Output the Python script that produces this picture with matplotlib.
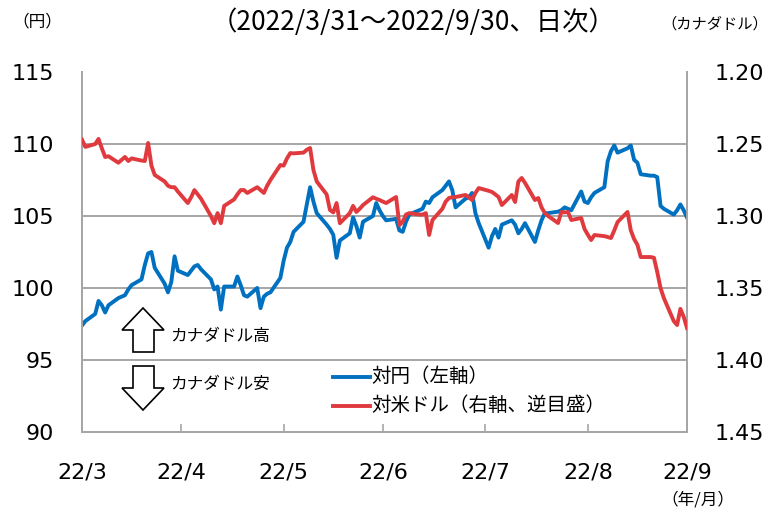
import matplotlib
matplotlib.use('Agg')
import matplotlib.pyplot as plt
import pandas as pd
from matplotlib.patches import Polygon
from matplotlib.lines import Line2D

plt.rcParams['font.family'] = ['DejaVu Sans', 'Noto Sans CJK JP']
JP = ['Noto Sans CJK JP', 'DejaVu Sans']

# ---------------- data ----------------
dates = pd.bdate_range('2022-03-31', '2022-09-30')

cad_jpy = [
    97.4,
    97.7, 98.2, 99.1, 98.8, 98.3, 98.8, 99.3, 99.4, 99.5, 99.9, 100.2,
    100.6, 101.6, 102.4, 102.5, 101.4, 100.3, 99.7, 100.4, 102.2, 101.2,
    100.9, 101.2, 101.5, 101.6, 101.3, 100.6, 99.9, 100.1, 98.5, 100.1,
    100.1, 100.8, 100.2, 99.5, 99.4, 100.0, 98.6, 99.4, 99.6, 99.7, 100.7, 101.9,
    102.8, 103.2, 103.9, 104.6, 105.8, 107.0, 106.0, 105.2, 104.4, 104.1, 103.7,
    102.1, 103.3, 103.8, 104.9, 104.3, 103.5, 104.6, 105.0, 105.9, 105.4, 105.0,
    104.7, 104.8, 104.0, 103.9, 104.6, 105.1, 105.4, 105.5, 106.0, 105.9, 106.3,
    106.8, 107.1, 107.4, 106.8, 105.6, 106.2, 106.3, 106.6, 105.2, 104.5,
    102.8, 103.6, 104.1, 103.5, 104.4, 104.7, 104.4, 103.8, 104.1, 104.5,
    103.2, 104.0, 104.7, 105.2, 105.2, 105.3, 105.4, 105.6, 105.5, 105.4,
    106.7, 106.0, 105.9,
    106.3, 106.6, 107.0, 108.8, 109.5, 109.9, 109.4, 109.7, 109.9, 108.9, 108.7,
    107.9, 107.8, 107.8, 107.7, 105.7, 105.5, 105.1, 105.4, 105.8, 105.4, 104.9,
]

usd_cad = [
    1.2470,
    1.2520, 1.2500, 1.2465, 1.2530, 1.2590, 1.2585, 1.2630, 1.2610, 1.2590, 1.2618, 1.2600,
    1.2615, 1.2618, 1.2493, 1.2650, 1.2715, 1.2760, 1.2790, 1.2800, 1.2800, 1.2830,
    1.2910, 1.2870, 1.2820, 1.2850, 1.2880, 1.3000, 1.3050, 1.2980, 1.3050, 1.2930,
    1.2885, 1.2850, 1.2820, 1.2820, 1.2840, 1.2800, 1.2820, 1.2840, 1.2790, 1.2750,
    1.2646, 1.2650,
    1.2600, 1.2563, 1.2565, 1.2560, 1.2540, 1.2528, 1.2680, 1.2760, 1.2850, 1.2958,
    1.2975, 1.2910, 1.3050, 1.2980, 1.2930, 1.2972, 1.2950, 1.2924, 1.2870, 1.2880,
    1.2889, 1.2900,
    1.2910, 1.2868, 1.3063, 1.3040, 1.2990, 1.2980, 1.2990, 1.2990, 1.2980, 1.3132,
    1.3028, 1.2950, 1.2900, 1.2875, 1.2870, 1.2868, 1.2854, 1.2870, 1.2889, 1.2840,
    1.2806,
    1.2825, 1.2833, 1.2850, 1.2868, 1.2924, 1.2854, 1.2903, 1.2760, 1.2736, 1.2770,
    1.2889, 1.2875, 1.2940, 1.2980, 1.3000, 1.3049, 1.2972, 1.2975, 1.2972, 1.3028,
    1.3014, 1.3090, 1.3130,
    1.3167, 1.3132, 1.3140, 1.3146, 1.3153, 1.3100, 1.3042, 1.2972, 1.3100, 1.3160,
    1.3200, 1.3285, 1.3285, 1.3290, 1.3389, 1.3500, 1.3570, 1.3730, 1.3757, 1.3645,
    1.3700, 1.3778,
]

tick_dates = ['2022-03-31', '2022-04-30', '2022-05-31', '2022-06-30',
              '2022-07-31', '2022-08-31', '2022-09-30']
tick_labels = ['22/3', '22/4', '22/5', '22/6', '22/7', '22/8', '22/9']
left_ticks = [90, 95, 100, 105, 110, 115]
right_ticks = [1.20, 1.25, 1.30, 1.35, 1.40, 1.45]

BLUE = '#0070C0'
RED = '#E0393E'
GRAY = '#A6A6A6'

W, H = 771, 515


def fx(x):
    return x / W


def fy(y):
    return 1 - y / H


fig = plt.figure(figsize=(W / 100, H / 100), dpi=100)
ax = fig.add_axes([fx(82), fy(432), (687 - 82) / W, (432 - 72) / H])
ax2 = ax.twinx()

ax.plot(dates, cad_jpy, color=BLUE, lw=2.8, solid_joinstyle='round', zorder=3)
ax2.plot(dates, usd_cad, color=RED, lw=2.8, solid_joinstyle='round', zorder=3)

ax.set_xlim(pd.Timestamp(tick_dates[0]), pd.Timestamp(tick_dates[-1]))
ax.set_ylim(90, 115)
ax2.set_ylim(1.45, 1.20)

ax.set_yticks(left_ticks)
ax.set_yticklabels([str(v) for v in left_ticks])
ax2.set_yticks(right_ticks)
ax2.set_yticklabels([f'{v:.2f}' for v in right_ticks])
ax.set_xticks([pd.Timestamp(d) for d in tick_dates])
ax.set_xticklabels(tick_labels)

for a in (ax, ax2):
    for s in a.spines.values():
        s.set_color(GRAY)
        s.set_linewidth(1.4)
    a.spines['top'].set_visible(False)
ax.tick_params(axis='y', length=0, pad=20, labelsize=16, colors='black')
ax2.tick_params(axis='y', length=0, pad=20, labelsize=16, colors='black')
ax.tick_params(axis='x', direction='in', length=6, width=1.2, color=GRAY,
               pad=22, labelsize=16, labelcolor='black')

for v in [95, 100, 105, 110]:
    ax.axhline(v, color=GRAY, lw=1.4, zorder=1)

# titles / unit labels
fig.text(fx(413), fy(22), '（2022/3/31～2022/9/30、日次）', ha='center', va='center',
         fontsize=19, family=JP)
fig.text(fx(37), fy(22), '（円）', ha='center', va='center', fontsize=12, family=JP)
fig.text(fx(715), fy(24), '（カナダドル）', ha='center', va='center', fontsize=11, family=JP)
fig.text(fx(698), fy(500), '（年/月）', ha='center', va='center', fontsize=12, family=JP)

# arrows
up = [(143, 308), (164, 330), (154, 330), (154, 352), (133, 352), (133, 330), (122, 330)]
down = [(133, 366), (154, 366), (154, 388), (164, 388), (143, 410), (122, 388), (133, 388)]
for pts in (up, down):
    fig.patches.append(Polygon([(fx(x), fy(y)) for x, y in pts], closed=True,
                               transform=fig.transFigure, facecolor='white',
                               edgecolor='black', lw=1.2, zorder=5))
fig.text(fx(170), fy(336), 'カナダドル高', ha='left', va='center', fontsize=12, family=JP)
fig.text(fx(170), fy(385), 'カナダドル安', ha='left', va='center', fontsize=12, family=JP)

# legend
fig.add_artist(Line2D([fx(333), fx(370)], [fy(377), fy(377)], color=BLUE, lw=2.8,
                      transform=fig.transFigure))
fig.add_artist(Line2D([fx(333), fx(370)], [fy(406), fy(406)], color=RED, lw=2.8,
                      transform=fig.transFigure))
fig.text(fx(371), fy(376), '対円（左軸）', ha='left', va='center', fontsize=14, family=JP)
fig.text(fx(371), fy(405), '対米ドル（右軸、逆目盛）', ha='left', va='center', fontsize=14,
         family=JP)

fig.savefig('out.png', dpi=100)
